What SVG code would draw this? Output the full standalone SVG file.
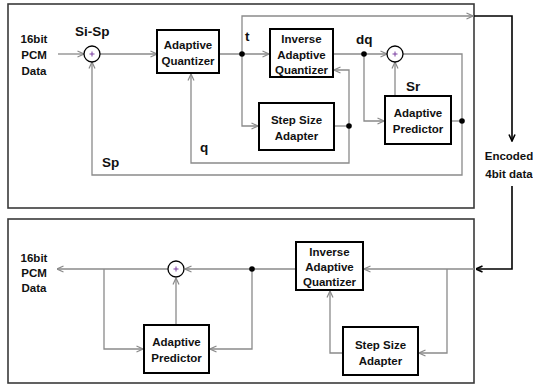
<svg xmlns="http://www.w3.org/2000/svg" width="533" height="385" viewBox="0 0 533 385">
<style>
.frame{fill:none;stroke:#3a3a3a;stroke-width:1.6}
.box{fill:#fff;stroke:#000;stroke-width:2}
.w{fill:none;stroke:#8a8a8a;stroke-width:1.3}
.k{fill:none;stroke:#000;stroke-width:1.6}
.sum{fill:#fff;stroke:#000;stroke-width:1.3}
.plus{stroke:#7a3fa0;stroke-width:1}
.dot{fill:#000}
text{font-family:"Liberation Sans",Arial,sans-serif;font-weight:bold;fill:#111}
.t{font-size:11.5px;text-anchor:middle}
.lbl{font-size:13.5px}
</style>
<defs>
<marker id="ag" viewBox="0 0 8 8" refX="7.5" refY="4" markerWidth="8" markerHeight="8" markerUnits="userSpaceOnUse" orient="auto">
<path d="M1,1 L7.5,4 L1,7" fill="none" stroke="#8a8a8a" stroke-width="1.2"/>
</marker>
<marker id="ak" viewBox="0 0 8 8" refX="7.5" refY="4" markerWidth="8" markerHeight="8" markerUnits="userSpaceOnUse" orient="auto">
<path d="M1,1 L7.5,4 L1,7" fill="none" stroke="#000" stroke-width="1.6"/>
</marker>
</defs>

<rect class="frame" x="8" y="4" width="466" height="204"/>
<rect class="frame" x="8" y="219" width="466" height="164"/>

<g id="connectors">
<!-- encoder -->
<path class="w" d="M58,54 L84,54" marker-end="url(#ag)"/>
<path class="w" d="M100,54 L157,54" marker-end="url(#ag)"/>
<path class="w" d="M219,54 L269,54" marker-end="url(#ag)"/>
<path class="w" d="M242,54 L242,16 L473,16" marker-end="url(#ag)"/>
<path class="k" d="M474,16 L512,16 L512,141" marker-end="url(#ak)"/>
<path class="k" d="M512,186 L512,269 L476,269" marker-end="url(#ak)"/>
<path class="w" d="M242,54 L242,126 L258,126" marker-end="url(#ag)"/>
<path class="w" d="M333,54 L387,54" marker-end="url(#ag)"/>
<path class="w" d="M364,54 L364,121 L384,121" marker-end="url(#ag)"/>
<path class="w" d="M403,54 L462,54 L462,175 L92,175 L92,62" marker-end="url(#ag)"/>
<path class="w" d="M451,121 L462,121"/>
<path class="w" d="M395,96 L395,62" marker-end="url(#ag)"/>
<path class="w" d="M334,126 L349,126"/>
<path class="w" d="M349,126 L349,70 L334,70" marker-end="url(#ag)"/>
<path class="w" d="M349,126 L349,163 L191,163 L191,74" marker-end="url(#ag)"/>
<circle class="dot" cx="242" cy="54" r="2.8"/>
<circle class="dot" cx="364" cy="54" r="2.8"/>
<circle class="dot" cx="349" cy="126" r="2.8"/>
<circle class="dot" cx="462" cy="121" r="2.8"/>
<!-- decoder -->
<path class="w" d="M474,269 L364,269" marker-end="url(#ag)"/>
<path class="w" d="M447,269 L447,353 L419,353" marker-end="url(#ag)"/>
<path class="w" d="M343,353 L330,353 L330,291" marker-end="url(#ag)"/>
<path class="w" d="M296,269 L185,269" marker-end="url(#ag)"/>
<path class="w" d="M168,269 L57,269" marker-end="url(#ag)"/>
<path class="w" d="M104,269 L104,349 L143,349" marker-end="url(#ag)"/>
<path class="w" d="M252,269 L252,349 L210,349" marker-end="url(#ag)"/>
<path class="w" d="M176,325 L176,278" marker-end="url(#ag)"/>
<circle class="dot" cx="252" cy="269" r="2.8"/>
</g>

<g id="enc-in">
<text class="t" x="34" y="43">16bit</text>
<text class="t" x="34" y="59">PCM</text>
<text class="t" x="34" y="75">Data</text>
</g>
<g id="enc-sum1">
<circle class="sum" cx="92" cy="54" r="8"/>
<path class="plus" d="M89.5,54 H94.5 M92,51.5 V56.5"/>
</g>
<g id="enc-aq">
<rect class="box" x="157" y="30" width="62" height="43"/>
<text class="t" x="188" y="49">Adaptive</text>
<text class="t" x="188" y="65">Quantizer</text>
</g>
<g id="enc-iaq">
<rect class="box" x="270" y="29" width="63" height="48"/>
<text class="t" x="301.5" y="43">Inverse</text>
<text class="t" x="301.5" y="59">Adaptive</text>
<text class="t" x="301.5" y="74">Quantizer</text>
</g>
<g id="enc-ssa">
<rect class="box" x="259" y="103" width="75" height="47"/>
<text class="t" x="296.5" y="124">Step Size</text>
<text class="t" x="296.5" y="140">Adapter</text>
</g>
<g id="enc-sum2">
<circle class="sum" cx="395" cy="54" r="8"/>
<path class="plus" d="M392.5,54 H397.5 M395,51.5 V56.5"/>
</g>
<g id="enc-ap">
<rect class="box" x="385" y="96" width="66" height="48"/>
<text class="t" x="418" y="117">Adaptive</text>
<text class="t" x="418" y="133">Predictor</text>
</g>
<g id="labels">
<text class="lbl" x="75" y="36">Si-Sp</text>
<text class="lbl" x="245" y="41">t</text>
<text class="lbl" x="356" y="44">dq</text>
<text class="lbl" x="406" y="91">Sr</text>
<text class="lbl" x="200" y="152">q</text>
<text class="lbl" x="102" y="167">Sp</text>
</g>
<g id="encoded">
<text class="t" x="509" y="160">Encoded</text>
<text class="t" x="509" y="178">4bit data</text>
</g>

<g id="dec-out">
<text class="t" x="34" y="262">16bit</text>
<text class="t" x="34" y="277">PCM</text>
<text class="t" x="34" y="292">Data</text>
</g>
<g id="dec-sum">
<circle class="sum" cx="176" cy="269" r="8"/>
<path class="plus" d="M173.5,269 H178.5 M176,266.5 V271.5"/>
</g>
<g id="dec-ap">
<rect class="box" x="144" y="325" width="65" height="48"/>
<text class="t" x="176.5" y="346">Adaptive</text>
<text class="t" x="176.5" y="362">Predictor</text>
</g>
<g id="dec-iaq">
<rect class="box" x="296" y="242" width="67" height="48"/>
<text class="t" x="329.5" y="256">Inverse</text>
<text class="t" x="329.5" y="271">Adaptive</text>
<text class="t" x="329.5" y="286">Quantizer</text>
</g>
<g id="dec-ssa">
<rect class="box" x="343" y="327" width="75" height="48"/>
<text class="t" x="380.5" y="349">Step Size</text>
<text class="t" x="380.5" y="365">Adapter</text>
</g>
</svg>
